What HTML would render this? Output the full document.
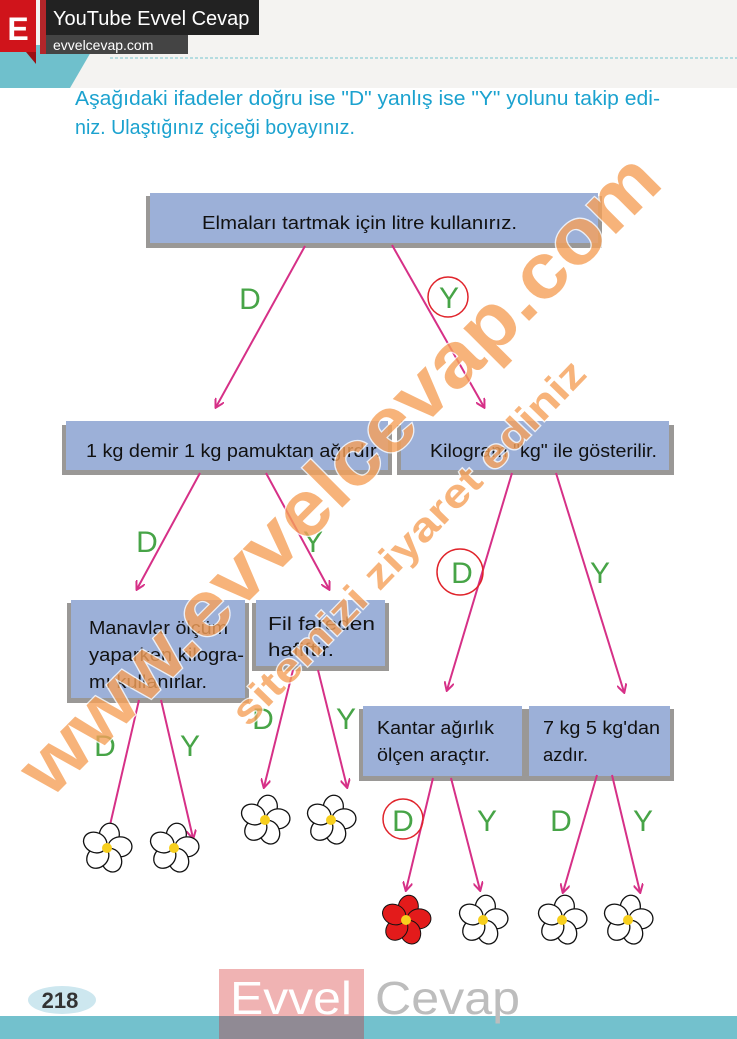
<!DOCTYPE html>
<html><head><meta charset="utf-8"><style>
body{margin:0;width:737px;height:1039px;overflow:hidden;background:#fff;font-family:"Liberation Sans",sans-serif;position:relative}
</style></head><body>
<svg width="737" height="1039" viewBox="0 0 737 1039" xmlns="http://www.w3.org/2000/svg" style="position:absolute;left:0;top:0">
<defs>
<marker id="ah" markerWidth="10" markerHeight="10" refX="8" refY="5" orient="auto" markerUnits="userSpaceOnUse"><path d="M0,0 L9,5 L0,10" fill="none" stroke="#d63087" stroke-width="2"/></marker>
<g id="fl">
<ellipse cx="0" cy="-13" rx="10" ry="12" fill="#fff" stroke="#111" stroke-width="1.3" transform="rotate(10)"/>
<ellipse cx="0" cy="-13" rx="10" ry="12" fill="#fff" stroke="#111" stroke-width="1.3" transform="rotate(85)"/>
<ellipse cx="0" cy="-13" rx="10" ry="12" fill="#fff" stroke="#111" stroke-width="1.3" transform="rotate(160)"/>
<ellipse cx="0" cy="-13" rx="10" ry="12" fill="#fff" stroke="#111" stroke-width="1.3" transform="rotate(225)"/>
<ellipse cx="0" cy="-13" rx="10" ry="12" fill="#fff" stroke="#111" stroke-width="1.3" transform="rotate(295)"/>
<circle r="5" fill="#f7cf1d"/>
</g>
</defs>
<rect x="0" y="0" width="737" height="88" fill="#f4f3f1"/>
<polygon points="0,45 95,45 70,88 0,88" fill="#6fc0cc"/>
<line x1="110" y1="58" x2="737" y2="58" stroke="#8fcfd6" stroke-width="1.2" stroke-dasharray="3,2"/>
<rect x="0" y="0" width="36" height="52" fill="#d0141b"/>
<polygon points="26,52 36,52 36,64" fill="#9a1015"/>
<text x="18" y="40" font-size="32" font-weight="bold" fill="#fff" text-anchor="middle">E</text>
<rect x="40" y="0" width="6" height="54" fill="#b3262a"/>
<rect x="46" y="0" width="213" height="35" fill="#222"/>
<text x="53" y="25" font-size="20" fill="#fff">YouTube Evvel Cevap</text>
<rect x="46" y="35" width="142" height="19" fill="#444"/>
<text x="53" y="50" font-size="14" fill="#fff">evvelcevap.com</text>
<text x="75" y="105" font-size="20" fill="#1ba2cf" textLength="585" lengthAdjust="spacingAndGlyphs">Aşağıdaki ifadeler doğru ise "D" yanlış ise "Y" yolunu takip edi-</text>
<text x="75" y="134" font-size="20" fill="#1ba2cf" textLength="280" lengthAdjust="spacingAndGlyphs">niz. Ulaştığınız çiçeği boyayınız.</text>

<g fill="#9a9896">
<rect x="146" y="196" width="456" height="52"/>
<rect x="62" y="425" width="330" height="50"/>
<rect x="397" y="425" width="277" height="50"/>
<rect x="67" y="603" width="182" height="100"/>
<rect x="252" y="603" width="137" height="68"/>
<rect x="359" y="709" width="167" height="72"/>
<rect x="525" y="709" width="149" height="72"/>
</g>
<g fill="#9cb0d8">
<rect x="150" y="193" width="448" height="50"/>
<rect x="66" y="421" width="322" height="49"/>
<rect x="401" y="421" width="268" height="49"/>
<rect x="71" y="600" width="174" height="98"/>
<rect x="256" y="600" width="129" height="66"/>
<rect x="363" y="706" width="159" height="70"/>
<rect x="529" y="706" width="141" height="70"/>
</g>
<g font-size="18" fill="#111" lengthAdjust="spacingAndGlyphs">
<text x="202" y="229" textLength="315" lengthAdjust="spacingAndGlyphs">Elmaları tartmak için litre kullanırız.</text>
<text x="86" y="457" textLength="295" lengthAdjust="spacingAndGlyphs">1 kg demir 1 kg pamuktan ağırdır.</text>
<text x="430" y="457" textLength="227" lengthAdjust="spacingAndGlyphs">Kilogram "kg" ile gösterilir.</text>
<text x="89" y="634" textLength="139" lengthAdjust="spacingAndGlyphs">Manavlar ölçüm</text>
<text x="89" y="661" textLength="155" lengthAdjust="spacingAndGlyphs">yaparken kilogra-</text>
<text x="89" y="688" textLength="118" lengthAdjust="spacingAndGlyphs">mı kullanırlar.</text>
<text x="268" y="630" textLength="107" lengthAdjust="spacingAndGlyphs">Fil fareden</text>
<text x="268" y="656" textLength="66" lengthAdjust="spacingAndGlyphs">hafiftir.</text>
<text x="377" y="734" textLength="117" lengthAdjust="spacingAndGlyphs">Kantar ağırlık</text>
<text x="377" y="761" textLength="113" lengthAdjust="spacingAndGlyphs">ölçen araçtır.</text>
<text x="543" y="734" textLength="117" lengthAdjust="spacingAndGlyphs">7 kg 5 kg'dan</text>
<text x="543" y="761" textLength="45" lengthAdjust="spacingAndGlyphs">azdır.</text>
</g>

<g stroke="#d63087" stroke-width="2" marker-end="url(#ah)">
<line x1="305" y1="246" x2="216" y2="407"/>
<line x1="392" y1="245" x2="484" y2="407"/>
<line x1="200" y1="473" x2="137" y2="589"/>
<line x1="266" y1="473" x2="329" y2="589"/>
<line x1="512" y1="473" x2="447" y2="690"/>
<line x1="556" y1="473" x2="624" y2="692"/>
<line x1="139" y1="700" x2="107" y2="838"/>
<line x1="161" y1="700" x2="193" y2="838"/>
<line x1="293" y1="670" x2="264" y2="787"/>
<line x1="318" y1="670" x2="347" y2="787"/>
<line x1="433" y1="778" x2="406" y2="890"/>
<line x1="451" y1="778" x2="480" y2="890"/>
<line x1="597" y1="775" x2="563" y2="892"/>
<line x1="612" y1="775" x2="640" y2="892"/>
</g>

<g font-size="30" fill="#47a447" text-anchor="middle">
<text x="250" y="309">D</text><text x="449" y="308">Y</text>
<text x="147" y="552">D</text><text x="313" y="552">Y</text>
<text x="462" y="583">D</text><text x="600" y="583">Y</text>
<text x="105" y="756">D</text><text x="190" y="756">Y</text>
<text x="263" y="729">D</text><text x="346" y="729">Y</text>
<text x="403" y="831">D</text><text x="487" y="831">Y</text>
<text x="561" y="831">D</text><text x="643" y="831">Y</text>
</g>
<g fill="none" stroke="#e0242b" stroke-width="1.5">
<circle cx="448" cy="297" r="20"/>
<circle cx="460" cy="572" r="23"/>
<circle cx="403" cy="819" r="20"/>
</g>

<use href="#fl" x="107" y="848"/>
<use href="#fl" x="174" y="848"/>
<use href="#fl" x="265" y="820"/>
<use href="#fl" x="331" y="820"/>
<g transform="translate(406,920)">
<ellipse cx="0" cy="-13" rx="10" ry="12" fill="#e31b1b" stroke="#111" stroke-width="1" transform="rotate(10)"/>
<ellipse cx="0" cy="-13" rx="10" ry="12" fill="#e31b1b" stroke="#111" stroke-width="1" transform="rotate(85)"/>
<ellipse cx="0" cy="-13" rx="10" ry="12" fill="#e31b1b" stroke="#111" stroke-width="1" transform="rotate(160)"/>
<ellipse cx="0" cy="-13" rx="10" ry="12" fill="#e31b1b" stroke="#111" stroke-width="1" transform="rotate(225)"/>
<ellipse cx="0" cy="-13" rx="10" ry="12" fill="#e31b1b" stroke="#111" stroke-width="1" transform="rotate(295)"/>
<circle r="5" fill="#f7cf1d"/>
</g>
<use href="#fl" x="483" y="920"/>
<use href="#fl" x="562" y="920"/>
<use href="#fl" x="628" y="920"/>

<g opacity="0.8" font-weight="bold" fill="#f6a15a" stroke="#fff" stroke-width="2.5" paint-order="stroke">
<text x="0" y="0" font-size="78" transform="translate(50,800) rotate(-45)" textLength="870" lengthAdjust="spacingAndGlyphs">www.evvelcevap.com</text>
<text x="0" y="0" font-size="40" transform="translate(248,728) rotate(-46)" textLength="490" lengthAdjust="spacingAndGlyphs">sitemizi ziyaret ediniz</text>
</g>

<rect x="0" y="1016" width="737" height="23" fill="#73c1cd"/>
<ellipse cx="62" cy="1000" rx="34" ry="14" fill="#cde7ef"/>
<text x="60" y="1008" font-size="22" font-weight="bold" fill="#333" text-anchor="middle">218</text>
<rect x="219" y="969" width="145" height="50" fill="#f0b3b3"/>
<rect x="219" y="1016" width="145" height="23" fill="#908a94"/>
<polygon points="350,1039 364,1039 364,1025" fill="#908a94"/>
<text x="230" y="1014" font-size="46" fill="#fff" textLength="122" lengthAdjust="spacingAndGlyphs">Evvel</text>
<text x="375" y="1014" font-size="46" fill="#bdbdbd" textLength="145" lengthAdjust="spacingAndGlyphs">Cevap</text>
</svg>
</body></html>
